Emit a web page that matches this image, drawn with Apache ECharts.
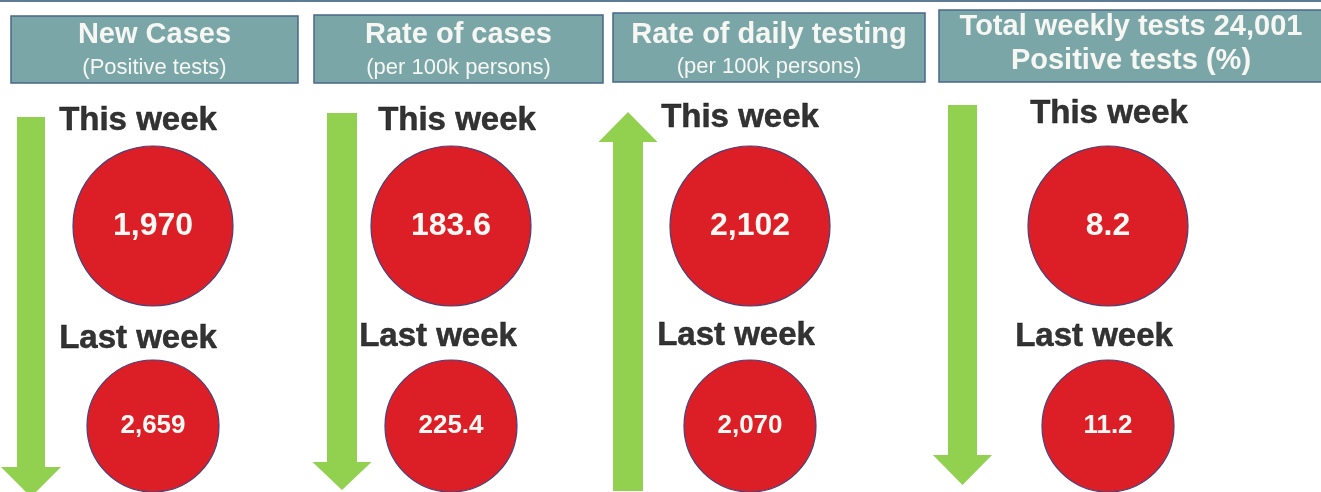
<!DOCTYPE html>
<html><head><meta charset="utf-8">
<script src="https://cdn.jsdelivr.net/npm/echarts@6/dist/echarts.min.js"></script>
<style>html,body{margin:0;padding:0;background:#fff}#c{width:1321px;height:492px}</style>
</head><body><div id="c"></div><script>
// ---- data ----
const panels = ['New Cases', 'Rate of cases', 'Rate of daily testing', 'Positive tests'];
const weeks = ['This week', 'Last week'];
const thisWeekValues = [1970, 183.6, 2102, 8.2];
const lastWeekValues = [2659, 225.4, 2070, 11.2];
const trend = ['down', 'down', 'up', 'down'];
const totalWeeklyTests = 24001;
const headerTitles = ['New Cases', 'Rate of cases', 'Rate of daily testing', 'Total weekly tests ' + totalWeeklyTests.toLocaleString('en-US')];
const headerSubtitles = ['(Positive tests)', '(per 100k persons)', '(per 100k persons)', 'Positive tests (%)'];

// ---- layout (positions / sizes only) ----
const FONT = "'Liberation Sans', Arial, Helvetica, sans-serif";
const layout = [
  {cx: 153, box: [11, 16, 287, 67], titleY: 35, subY: 68, subBold: false, lbl: [[-15, -105], [-15, -87]], arrow: {x: 31, top: 117, bottom: 497, sw: 28, hw: 60, hh: 30}},
  {cx: 451, box: [314, 15, 289, 68], titleY: 35, subY: 68, subBold: false, lbl: [[6, -105], [-13, -89]], arrow: {x: 342, top: 113, bottom: 490, sw: 30, hw: 59, hh: 28}},
  {cx: 750, box: [613, 13, 312, 69], titleY: 35, subY: 67, subBold: false, lbl: [[-10, -108], [-14, -90]], arrow: {x: 628, top: 112, bottom: 491, sw: 30, hw: 59, hh: 30}},
  {cx: 1108, box: [939, 10, 384, 72], titleY: 27, subY: 61, subBold: true, lbl: [[1, -112], [-14, -89]], arrow: {x: 962.5, top: 105, bottom: 485, sw: 29, hw: 59, hh: 30}}
];
const GRID_W = 280;

function fmt(v) {
  return v >= 1000 ? v.toLocaleString('en-US') : v.toFixed(1);
}

const grids = [], xAxes = [], yAxes = [], series = [], graphics = [];

graphics.push({type: 'rect', shape: {x: 0, y: 0, width: 1321, height: 2}, style: {fill: '#5d7c93'}});

panels.forEach((p, i) => {
  const L = layout[i];
  grids.push({left: L.cx - GRID_W / 2, width: GRID_W, top: 226, height: 200});
  xAxes.push({type: 'category', gridIndex: i, data: [p], show: false});
  yAxes.push({type: 'category', gridIndex: i, data: weeks, inverse: true, boundaryGap: false, show: false});

  // arrow (trend)
  series.push({
    type: 'custom', xAxisIndex: i, yAxisIndex: i, silent: true, z: 1, clip: false,
    data: [[p, weeks[0], trend[i]]],
    renderItem: function () {
      const a = L.arrow, up = trend[i] === 'up';
      let pts;
      if (!up) {
        const b = a.bottom - a.hh;
        pts = [[a.x - a.sw / 2, a.top], [a.x + a.sw / 2, a.top], [a.x + a.sw / 2, b], [a.x + a.hw / 2, b], [a.x, a.bottom], [a.x - a.hw / 2, b], [a.x - a.sw / 2, b]];
      } else {
        const b = a.top + a.hh;
        pts = [[a.x, a.top], [a.x + a.hw / 2, b], [a.x + a.sw / 2, b], [a.x + a.sw / 2, a.bottom], [a.x - a.sw / 2, a.bottom], [a.x - a.sw / 2, b], [a.x - a.hw / 2, b]];
      }
      return {type: 'polygon', shape: {points: pts}, style: {fill: '#92d050'}};
    }
  });

  // circles with values
  series.push({
    type: 'scatter', xAxisIndex: i, yAxisIndex: i, z: 3, silent: true, clip: false,
    data: [
      {value: [p, weeks[0], thisWeekValues[i]], label: {fontSize: 32}},
      {value: [p, weeks[1], lastWeekValues[i]], label: {fontSize: 26}}
    ],
    symbol: 'circle',
    symbolSize: (v) => v[1] === weeks[0] ? 160 : 132,
    itemStyle: {color: '#dc1f26', borderColor: '#45407e', borderWidth: 1.2, opacity: 1},
    label: {
      show: true, position: 'inside', color: '#fff8f4', fontFamily: FONT, fontWeight: 'bold',
      formatter: (pp) => fmt(pp.value[2])
    }
  });

  // row labels
  series.push({
    type: 'scatter', xAxisIndex: i, yAxisIndex: i, z: 4, silent: true, clip: false,
    symbolSize: 1, itemStyle: {color: 'rgba(0,0,0,0)'},
    data: weeks.map((w, k) => ({
      value: [p, w],
      label: {offset: L.lbl[k]}
    })),
    label: {
      show: true, position: 'inside', color: '#000000', fontFamily: FONT, fontWeight: 'bold', fontSize: 33,
      textBorderColor: '#000000', textBorderWidth: 0.5,
      formatter: (pp) => pp.value[1]
    }
  });

  // header
  const [bx, by, bw, bh] = L.box;
  const tcx = bx + bw / 2;
  graphics.push({type: 'rect', shape: {x: bx, y: by, width: bw, height: bh}, style: {fill: '#7ba6a8', stroke: '#4a6789', lineWidth: 1.5}});
  graphics.push({type: 'text', x: tcx, y: L.titleY, style: {text: headerTitles[i], fill: '#f6f7f3', font: 'bold 29px ' + FONT, textAlign: 'center', textVerticalAlign: 'middle'}});
  graphics.push({type: 'text', x: tcx, y: L.subY, style: {text: headerSubtitles[i], fill: '#f6f7f3', font: (L.subBold ? 'bold 29px ' : '22px ') + FONT, textAlign: 'center', textVerticalAlign: 'middle'}});
});

const chart = echarts.init(document.getElementById('c'), null, {renderer: 'canvas'});
chart.setOption({
  animation: false,
  backgroundColor: '#ffffff',
  grid: grids, xAxis: xAxes, yAxis: yAxes, series: series,
  graphic: graphics
});
</script></body></html>
